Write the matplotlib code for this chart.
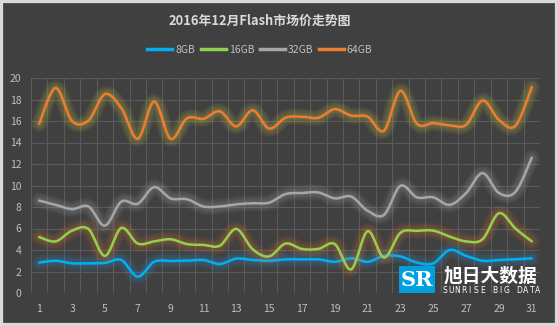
import numpy as np
import matplotlib.pyplot as plt
from matplotlib.lines import Line2D
from matplotlib.patches import Rectangle

plt.rcParams['font.family'] = ['Noto Sans CJK SC', 'DejaVu Sans']

days = list(range(1, 32))
gb8 = [2.83, 3.0, 2.76, 2.76, 2.8, 3.07, 1.52, 2.9, 2.98, 3.0,
       3.07, 2.7, 3.2, 3.07, 3.0, 3.13, 3.13, 3.13, 2.9, 3.23,
       2.9, 3.45, 3.4, 2.83, 2.76, 4.0, 3.45, 3.0, 3.07, 3.13, 3.23]
gb16 = [5.2, 4.8, 5.8, 5.95, 3.45, 6.05, 4.6, 4.8, 5.0, 4.55,
        4.47, 4.4, 5.96, 4.07, 3.4, 4.6, 4.1, 4.1, 4.55, 2.2,
        5.75, 3.3, 5.6, 5.78, 5.8, 5.25, 4.8, 5.0, 7.42, 6.0, 4.8]
gb32 = [8.6, 8.2, 7.8, 8.05, 6.27, 8.5, 8.3, 9.85, 8.8, 8.72,
        8.05, 8.05, 8.25, 8.35, 8.4, 9.2, 9.3, 9.35, 8.8, 8.97,
        7.65, 7.27, 9.97, 8.9, 8.9, 8.2, 9.3, 11.15, 9.3, 9.4, 12.6]
gb64 = [15.75, 19.07, 16.0, 16.05, 18.5, 17.2, 14.35, 17.8, 14.35, 16.25,
        16.2, 16.9, 15.5, 17.0, 15.3, 16.3, 16.4, 16.3, 17.1, 16.5,
        16.4, 15.1, 18.8, 15.75, 15.8, 15.6, 15.65, 17.9, 16.1, 15.55, 19.15]

series = [('8GB', gb8, '#00B0F0', '#2A9BE0'),
          ('16GB', gb16, '#92D050', '#ED7D31'),
          ('32GB', gb32, '#A6A6A6', '#B0B0B0'),
          ('64GB', gb64, '#ED7D31', '#D8D040')]


def smooth(x, y, n=24):
    x = np.asarray(x, float)
    y = np.asarray(y, float)
    px = np.concatenate([[x[0]], x, [x[-1]]])
    py = np.concatenate([[y[0]], y, [y[-1]]])
    xs, ys = [], []
    t = np.linspace(0, 1, n)
    for i in range(1, len(px) - 2):
        x0, x1, x2, x3 = px[i - 1:i + 3]
        y0, y1, y2, y3 = py[i - 1:i + 3]
        c1x, c1y = x1 + (x2 - x0) / 6, y1 + (y2 - y0) / 6
        c2x, c2y = x2 - (x3 - x1) / 6, y2 - (y3 - y1) / 6
        b0, b1, b2, b3 = (1 - t) ** 3, 3 * t * (1 - t) ** 2, 3 * t ** 2 * (1 - t), t ** 3
        xs.append(b0 * x1 + b1 * c1x + b2 * c2x + b3 * x2)
        ys.append(b0 * y1 + b1 * c1y + b2 * c2y + b3 * y2)
    return np.concatenate(xs), np.concatenate(ys)


bg = '#404040'
fig = plt.figure(figsize=(5.58, 3.26), dpi=100, facecolor=bg)
fig.add_artist(Rectangle((0, 0), 1, 1, transform=fig.transFigure, fill=False,
                         edgecolor='#D9D9D9', lw=4.5, zorder=10))

ax = fig.add_axes([31 / 558, 1 - 293 / 326, 509 / 558, 215 / 326])
ax.set_facecolor(bg)
ax.set_xlim(0.5, 31.5)
ax.set_ylim(0, 20)
ax.set_xticks(days[::2])
ax.set_xticks(np.arange(0.5, 32, 1), minor=True)
ax.set_yticks(range(0, 21, 2))
ax.tick_params(which='both', length=0, colors='#BFBFBF', labelsize=7.5)
ax.tick_params(axis='x', pad=8)
ax.tick_params(axis='y', pad=7)
ax.grid(which='minor', axis='x', color='#5A5A5A', lw=0.8)
ax.grid(which='major', axis='y', color='#5A5A5A', lw=0.8)
for s in ax.spines.values():
    s.set_visible(False)
ax.set_axisbelow(True)

handles = []
for name, vals, col, glow in series:
    sx, sy = smooth(days, vals)
    for lw in np.linspace(12, 3, 8):
        ax.plot(sx, sy, color=glow, lw=lw, alpha=0.045, solid_capstyle='round',
                solid_joinstyle='round')
    ax.plot(sx, sy, color=col, lw=1.8, solid_capstyle='round')
    handles.append(Line2D([], [], color=col, lw=2.5, label=name))

fig.text(260 / 558, 1 - 21 / 326, '2016年12月Flash市场价走势图', ha='center',
         va='center', color='#D9D9D9', fontsize=9.3, fontweight='bold')
fig.legend(handles=handles, loc='center', bbox_to_anchor=(260 / 558, 1 - 50 / 326),
           ncol=4, frameon=False, fontsize=7.5, labelcolor='#BFBFBF',
           handlelength=2.4, handletextpad=0.3, columnspacing=0.5)

# logo
fig.add_artist(Rectangle((399 / 558, 1 - 293 / 326), 36 / 558, 27 / 326,
                         transform=fig.transFigure, facecolor='#00A0E0',
                         edgecolor='none', zorder=5))
fig.text(417 / 558, 1 - 280 / 326, 'SR', ha='center', va='center', color='white',
         fontsize=15, fontweight='bold', family='DejaVu Serif', zorder=6)
fig.text(490.5 / 558, 1 - 276.5 / 326, '旭日大数据', ha='center', va='center',
         color='white', fontsize=13.5, fontweight='bold', zorder=6)
brand = 'SUNRISE BIG DATA'
for i, ch in enumerate(brand):
    fig.text((445 + i * 6.2) / 558, 1 - 290.5 / 326, ch, ha='center', va='center',
             color='white', fontsize=5.5, family='DejaVu Sans', zorder=6)

fig.savefig('out.png', dpi=100, facecolor=fig.get_facecolor())
